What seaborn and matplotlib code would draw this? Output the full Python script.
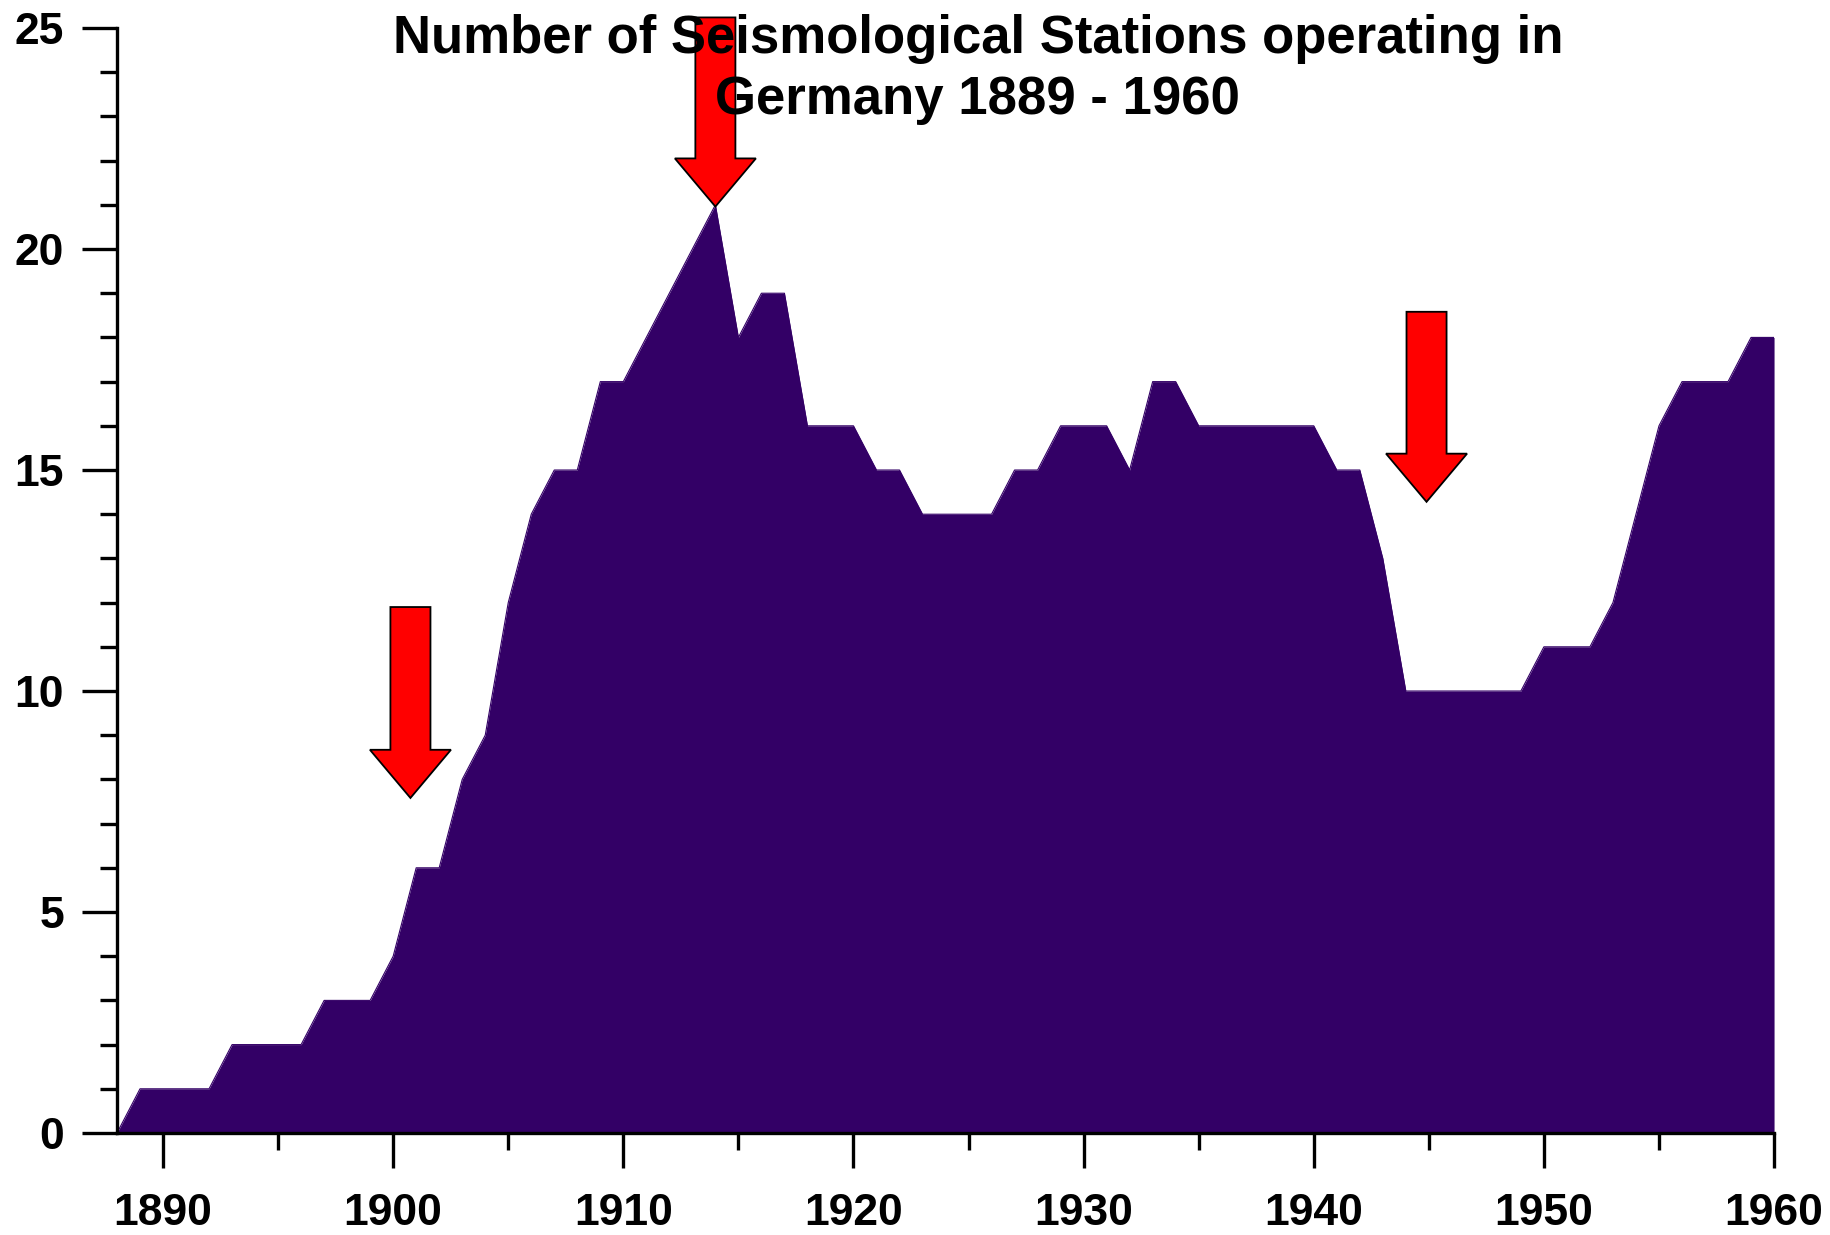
import matplotlib
matplotlib.use("Agg")
import matplotlib.pyplot as plt
import matplotlib.patches as mpatches
import seaborn as sns
import pandas as pd

years = list(range(1888, 1961))
stations = [0, 1, 1, 1, 1, 2, 2, 2, 2, 3,   # 1888-1897
            3, 3, 4, 6, 6, 8, 9, 12, 14, 15,  # 1898-1907
            15, 17, 17, 18, 19, 20, 21, 18, 19, 19,  # 1908-1917
            16, 16, 16, 15, 15, 14, 14, 14, 14, 15,  # 1918-1927
            15, 16, 16, 16, 15, 17, 17, 16, 16, 16,  # 1928-1937
            16, 16, 16, 15, 15, 13, 10, 10, 10, 10,  # 1938-1947
            10, 10, 11, 11, 11, 12, 14, 16, 17, 17,  # 1948-1957
            17, 18, 18]                               # 1958-1960

# arrows: (tip year, tip value, top value)
arrow_x = [1900.75, 1914.0, 1944.9]
arrow_tip = [7.58, 20.96, 14.28]
arrow_top = [11.9, 25.24, 18.58]

title = "Number of Seismological Stations operating in\nGermany 1889 - 1960"
fill_color = "#330066"

sns.set_style("ticks")
plt.rcParams["font.family"] = ["Liberation Sans", "DejaVu Sans"]
plt.rcParams["font.weight"] = "bold"
plt.rcParams["text.color"] = "black"
plt.rcParams["xtick.color"] = "black"
plt.rcParams["ytick.color"] = "black"
plt.rcParams["xtick.labelcolor"] = "black"
plt.rcParams["ytick.labelcolor"] = "black"

df = pd.DataFrame({"year": years, "stations": stations})

fig = plt.figure(figsize=(18.31, 12.35), dpi=100)
ax = fig.add_axes([0.0639, 0.0826, 0.9689 - 0.0639, 0.9773 - 0.0826])

sns.lineplot(data=df, x="year", y="stations", ax=ax, color=fill_color, linewidth=0.8)
ax.fill_between(df["year"], 0, df["stations"], color=fill_color, linewidth=0)

ax.set_xlim(1888, 1960)
ax.set_ylim(0, 25)
ax.set_xlabel("")
ax.set_ylabel("")

ax.set_xticks(range(1890, 1961, 10))
ax.set_xticks(range(1895, 1960, 10), minor=True)
ax.set_yticks(range(0, 26, 5))
ax.set_yticks(range(0, 26, 1), minor=True)

for s in ["top", "right"]:
    ax.spines[s].set_visible(False)
for s in ["left", "bottom"]:
    ax.spines[s].set_linewidth(2.4)
    ax.spines[s].set_color("black")

ax.tick_params(axis="x", which="major", length=25, width=2.4, direction="out", pad=18,
               labelsize=32, colors="black")
ax.tick_params(axis="x", which="minor", length=12.5, width=2.4, direction="out", colors="black")
ax.tick_params(axis="y", which="major", length=25, width=2.4, direction="out", pad=13,
               labelsize=32, colors="black")
ax.tick_params(axis="y", which="minor", length=12.5, width=2.4, direction="out", colors="black")
for lab in ax.get_xticklabels() + ax.get_yticklabels():
    lab.set_fontweight("bold")

# red arrows
for xa, tip, top in zip(arrow_x, arrow_tip, arrow_top):
    arr = mpatches.FancyArrow(xa, top, 0, tip - top, width=1.74, head_width=3.52,
                              head_length=1.09, length_includes_head=True,
                              facecolor="#ff0000", edgecolor="black", linewidth=1.3,
                              clip_on=False, zorder=5)
    ax.add_patch(arr)

fig.text(0.534, 0.989, title, ha="center", va="top", fontsize=38, fontweight="bold",
         color="black", linespacing=1.28, zorder=10)

fig.savefig("out.png", dpi=100)
